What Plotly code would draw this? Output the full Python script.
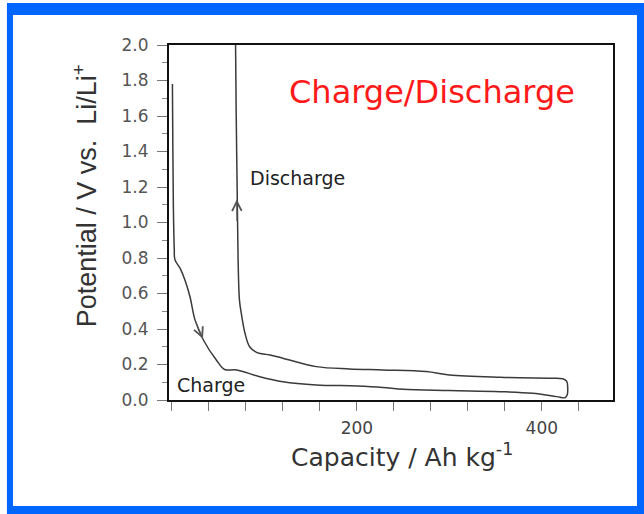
import plotly.graph_objects as go

# ---- data ----
charge_cap = [0.5, 1, 1.5, 2.5, 3.2, 9, 14, 19.5, 25, 34, 48, 57, 70, 95, 120, 156, 200, 228, 250, 300, 355, 390, 416, 425, 427.5, 428, 427, 423]
charge_v = [1.78, 1.4, 1.1, 0.85, 0.79, 0.74, 0.676, 0.582, 0.45, 0.338, 0.225, 0.172, 0.169, 0.131, 0.103, 0.085, 0.079, 0.071, 0.06, 0.053, 0.047, 0.038, 0.019, 0.013, 0.03, 0.07, 0.105, 0.12]

discharge_cap = [423, 416, 355, 300, 275, 228, 192, 156, 120, 106, 92, 84, 79, 75, 73, 71.5, 70.5, 69.5, 68.8]
discharge_v = [0.12, 0.122, 0.128, 0.141, 0.16, 0.169, 0.175, 0.188, 0.235, 0.254, 0.267, 0.30, 0.376, 0.488, 0.563, 0.8, 1.2, 1.6, 2.0]

# arrows: (tail cap, tail V) -> (tip cap, tip V)
arrow_tail_cap = [25, 70.3]
arrow_tail_v = [0.45, 1.0]
arrow_tip_cap = [33.5, 70.1]
arrow_tip_v = [0.345, 1.13]

x_tick_vals = [0, 40, 80, 120, 160, 200, 240, 280, 320, 360, 400, 440, 480]
x_tick_text = ["", "", "", "", "", "200", "", "", "", "", "400", "", ""]
y_tick_vals = [0.0, 0.2, 0.4, 0.6, 0.8, 1.0, 1.2, 1.4, 1.6, 1.8, 2.0]
y_tick_text = ["0.0", "0.2", "0.4", "0.6", "0.8", "1.0", "1.2", "1.4", "1.6", "1.8", "2.0"]

x_title = "Capacity / Ah kg<sup>-1</sup>"
y_title = "Potential / V vs.  Li/Li<sup>+</sup>"

WIDE = "DejaVu Sans, Verdana, sans-serif"
ARIAL = "Liberation Sans, Arial, sans-serif"
LINE = "#3a3a3a"

fig = go.Figure()
fig.add_trace(go.Scatter(x=charge_cap, y=charge_v, mode="lines",
                         line=dict(color=LINE, width=1.5), line_shape="spline",
                         hoverinfo="skip", showlegend=False))
fig.add_trace(go.Scatter(x=discharge_cap, y=discharge_v, mode="lines",
                         line=dict(color=LINE, width=1.5), line_shape="spline",
                         hoverinfo="skip", showlegend=False))

for tc, tv, hc, hv in zip(arrow_tail_cap, arrow_tail_v, arrow_tip_cap, arrow_tip_v):
    fig.add_annotation(x=hc, y=hv, ax=tc, ay=tv, xref="x", yref="y", axref="x", ayref="y",
                       text="", showarrow=True, arrowhead=5, arrowsize=1.7,
                       arrowwidth=1.1, arrowcolor="#555555")

fig.add_annotation(x=281, y=1.735, xref="x", yref="y", text="Charge/Discharge",
                   showarrow=False, font=dict(family=WIDE, size=32, color="#ff1a1a"))
fig.add_annotation(x=136, y=1.25, xref="x", yref="y", text="Discharge",
                   showarrow=False, font=dict(family=WIDE, size=19, color="#222222"))
fig.add_annotation(x=42, y=0.085, xref="x", yref="y", text="Charge",
                   showarrow=False, font=dict(family=WIDE, size=19, color="#222222"))

# axis titles placed as in the picture
fig.add_annotation(x=0.525, y=-0.155, xref="paper", yref="paper", text=x_title,
                   xanchor="center", yanchor="middle",
                   showarrow=False, font=dict(family=WIDE, size=25, color="#333333"))
fig.add_annotation(x=-0.189, y=0.574, xref="paper", yref="paper", text=y_title, textangle=-90,
                   xanchor="center", yanchor="middle",
                   showarrow=False, font=dict(family=ARIAL, size=27, color="#333333"))

# blue frame around the picture
fig.add_shape(type="rect", xref="paper", yref="paper", x0=-0.365, x1=1.2, y0=-0.5, y1=1.118,
              fillcolor="#0066ff", line=dict(width=0), layer="below")
fig.add_shape(type="rect", xref="paper", yref="paper", x0=-0.3514, x1=1.054, y0=-0.2986, y1=1.0845,
              fillcolor="white", line=dict(width=0), layer="below")

fig.update_xaxes(range=[-3.2, 477], tickmode="array", tickvals=x_tick_vals, ticktext=x_tick_text,
                 ticks="outside", ticklen=9, tickcolor="#777777", tickwidth=1,
                 showline=True, linecolor="#111111", linewidth=2, mirror=True,
                 showgrid=False, zeroline=False, ticklabelstandoff=3,
                 tickfont=dict(family=WIDE, size=17, color="#444444"))
fig.update_yaxes(range=[0, 2.0], tickmode="array", tickvals=y_tick_vals, ticktext=y_tick_text,
                 ticks="outside", ticklen=10, tickcolor="#777777", tickwidth=1,
                 minor=dict(dtick=0.1, ticks="outside", ticklen=5, tickcolor="#888888"),
                 showline=True, linecolor="#111111", linewidth=2, mirror=True,
                 showgrid=False, zeroline=False, ticklabelstandoff=5,
                 tickfont=dict(family=WIDE, size=17, color="#555555"))

fig.update_layout(width=644, height=514, autosize=False,
                  margin=dict(l=169, r=31, t=45, b=114),
                  paper_bgcolor="white", plot_bgcolor="rgba(0,0,0,0)",
                  showlegend=False)

fig.write_html("out.html", config={"displayModeBar": False},
               post_script="document.body.style.margin='0px';")
